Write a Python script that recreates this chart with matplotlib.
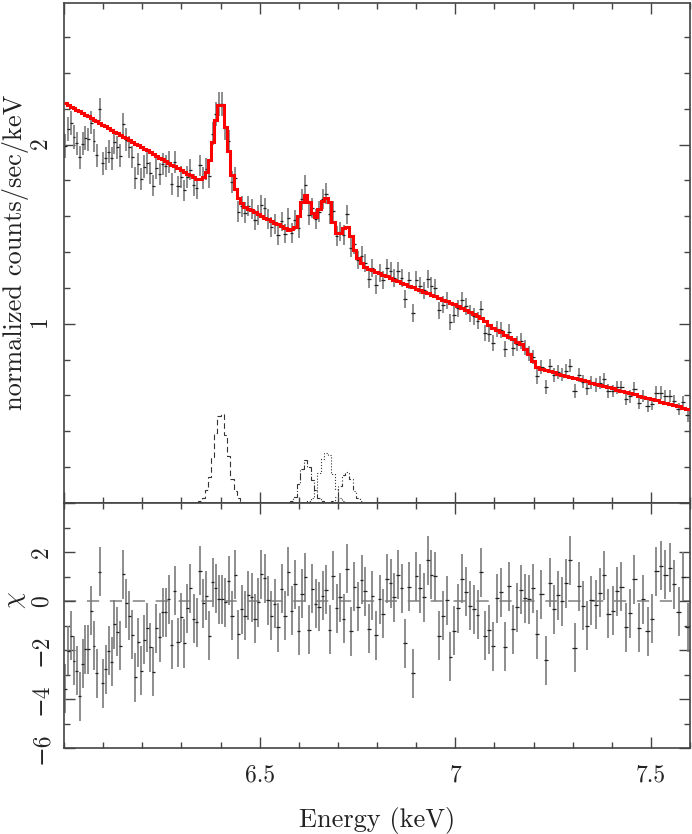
import matplotlib.pyplot as plt
import numpy as np
from matplotlib.ticker import MultipleLocator, FixedLocator, FixedFormatter

plt.rcParams['font.family'] = ['cmr10', 'DejaVu Serif']
plt.rcParams['mathtext.fontset'] = 'cm'
plt.rcParams['axes.formatter.use_mathtext'] = True

# energy grid (bins uniform in wavelength)
e_min = 6.0
e_max = 7.6
n_bins = 175

# continuum model level per bin (normalized counts/sec/keV)
continuum = [
    2.230, 2.221, 2.212, 2.203, 2.194, 2.185, 2.175, 2.166, 2.157, 2.148,
    2.138, 2.129, 2.120, 2.110, 2.101, 2.091, 2.082, 2.072, 2.063, 2.053,
    2.044, 2.034, 2.025, 2.015, 2.005, 1.996, 1.986, 1.976, 1.967, 1.957,
    1.947, 1.937, 1.927, 1.918, 1.908, 1.898, 1.888, 1.878, 1.868, 1.858,
    1.848, 1.838, 1.828, 1.818, 1.808, 1.798, 1.788, 1.778, 1.767, 1.757,
    1.747, 1.737, 1.726, 1.716, 1.706, 1.695, 1.685, 1.675, 1.664, 1.654,
    1.643, 1.633, 1.622, 1.612, 1.602, 1.592, 1.583, 1.574, 1.564, 1.555,
    1.545, 1.536, 1.526, 1.517, 1.507, 1.497, 1.488, 1.478, 1.468, 1.459,
    1.449, 1.439, 1.429, 1.420, 1.410, 1.400, 1.390, 1.381, 1.372, 1.363,
    1.354, 1.345, 1.336, 1.327, 1.318, 1.308, 1.299, 1.290, 1.281, 1.272,
    1.264, 1.256, 1.247, 1.239, 1.230, 1.222, 1.213, 1.205, 1.196, 1.187,
    1.179, 1.170, 1.162, 1.153, 1.144, 1.135, 1.126, 1.117, 1.108, 1.099,
    1.090, 1.079, 1.067, 1.056, 1.044, 1.030, 1.013, 0.995, 0.976, 0.965,
    0.952, 0.940, 0.928, 0.915, 0.900, 0.885, 0.862, 0.832, 0.792, 0.760,
    0.747, 0.741, 0.735, 0.729, 0.722, 0.716, 0.710, 0.703, 0.697, 0.691,
    0.684, 0.678, 0.671, 0.665, 0.658, 0.652, 0.645, 0.639, 0.632, 0.626,
    0.619, 0.612, 0.606, 0.599, 0.593, 0.586, 0.579, 0.573, 0.566, 0.559,
    0.553, 0.546, 0.539, 0.532, 0.525,
]

# gaussian line components: first bin index + values
kalpha_start = 45
kalpha = [0.012, 0.03, 0.07, 0.145, 0.255, 0.39, 0.485, 0.495, 0.38, 0.26,
          0.135, 0.065, 0.028, 0.01]
fe_a_start = 73
fe_a = [0.01, 0.034, 0.105, 0.19, 0.24, 0.2, 0.13, 0.07, 0.03, 0.01]
fe_b_start = 78
fe_b = [0.01, 0.03, 0.075, 0.17, 0.245, 0.28, 0.27, 0.16, 0.08, 0.03, 0.01]
fe_c_start = 85
fe_c = [0.01, 0.035, 0.095, 0.155, 0.175, 0.135, 0.067, 0.03, 0.01]

# 1-sigma errors of the data per bin
err = [
    0.066, 0.066, 0.066, 0.066, 0.066, 0.066, 0.066, 0.066, 0.065, 0.065,
    0.064, 0.064, 0.064, 0.064, 0.064, 0.064, 0.064, 0.064, 0.063, 0.063,
    0.063, 0.063, 0.063, 0.062, 0.062, 0.062, 0.062, 0.062, 0.062, 0.061,
    0.061, 0.061, 0.061, 0.061, 0.061, 0.061, 0.060, 0.060, 0.060, 0.060,
    0.060, 0.060, 0.060, 0.060, 0.060, 0.060, 0.061, 0.062, 0.063, 0.065,
    0.066, 0.068, 0.068, 0.066, 0.064, 0.061, 0.059, 0.058, 0.057, 0.057,
    0.056, 0.056, 0.056, 0.056, 0.056, 0.056, 0.055, 0.055, 0.055, 0.055,
    0.054, 0.054, 0.054, 0.055, 0.056, 0.057, 0.058, 0.058, 0.058, 0.057,
    0.056, 0.057, 0.058, 0.058, 0.058, 0.056, 0.054, 0.054, 0.055, 0.055,
    0.053, 0.052, 0.051, 0.051, 0.051, 0.051, 0.051, 0.051, 0.051, 0.050,
    0.050, 0.050, 0.050, 0.050, 0.050, 0.049, 0.049, 0.049, 0.049, 0.049,
    0.048, 0.048, 0.048, 0.048, 0.048, 0.048, 0.047, 0.047, 0.047, 0.047,
    0.046, 0.046, 0.046, 0.046, 0.046, 0.045, 0.045, 0.045, 0.045, 0.045,
    0.044, 0.044, 0.043, 0.043, 0.042, 0.042, 0.041, 0.041, 0.040, 0.040,
    0.039, 0.039, 0.039, 0.039, 0.039, 0.038, 0.038, 0.038, 0.038, 0.038,
    0.037, 0.037, 0.037, 0.037, 0.037, 0.037, 0.037, 0.036, 0.036, 0.036,
    0.036, 0.036, 0.036, 0.035, 0.035, 0.035, 0.035, 0.035, 0.035, 0.035,
    0.034, 0.034, 0.034, 0.034, 0.034,
]

# residuals (data - model) / error per bin
chi = [
    -3.59, -2.03, -1.41, -2.44, -2.84, -3.89, -2.57, -1.96, -1.96, -0.39,
    -1.82, -2.94, 1.20, -3.36, -2.78, -2.03, -2.48, -0.94, -1.25, -1.82,
    1.10, -0.10, -0.60, -1.37, -3.12, -1.69, -2.84, -1.59, -1.10, -1.89,
    -2.88, -1.12, -1.48, -0.46, -0.46, 0.08, -1.78, 0.42, -1.69, -0.67,
    -1.73, -0.30, 0.53, -0.73, -0.87, 1.24, -0.10, 0.22, -1.41, 0.76,
    0.53, 0.08, 0.08, -0.05, 0.83, -0.60, 1.07, -1.35, -0.33, -0.60,
    0.23, 0.15, -0.73, -0.05, 1.10, 0.93, 0.04, -0.60, -0.12, -1.07,
    0.49, -0.60, 1.20, -0.39, 0.69, -1.21, 0.29, 0.97, -1.18, 0.49,
    -0.12, -0.23, 0.22, 0.46, -1.17, 1.03, -0.29, 0.15, -0.73, 1.31,
    -1.24, 0.59, -0.23, 0.86, 0.39, -1.14, 0.22, -1.39, 0.08, -0.53,
    0.90, 0.73, 0.15, 1.07, 0.53, -1.73, 0.59, -2.94, 1.01, 0.53,
    0.15, 1.67, 1.07, 1.01, -1.41, -0.60, 0.04, -2.27, -1.21, -0.29,
    0.90, 0.38,
    -0.19, -0.33, -0.57, 1.17, -1.41, -1.18, -1.84, 0.12, 0.35, -1.86,
    0.61, -1.16, -0.26, 0.45, 0.12, 0.07, 0.53, -1.35, 0.27, -2.42,
    0.75, -0.33, 0.24, 0.00, 0.73, 1.67, -1.90, 0.60, -0.20, -1.02,
    0.04, -0.16, 0.34, 1.05, -0.53, -0.39, 0.39, 0.59, -1.07, -0.49,
    0.88, -1.10, 0.08, -1.24, -0.73, 1.21, 1.44, 1.07, 1.35, 0.69,
    -0.44, 0.99, -1.07,
]


def component(start, vals):
    arr = np.zeros(n_bins)
    arr[start:start + len(vals)] = vals
    return arr


edges = 1.0 / np.linspace(1.0 / e_min, 1.0 / e_max, n_bins + 1)
centers = 0.5 * (edges[:-1] + edges[1:])
comps = [component(kalpha_start, kalpha), component(fe_a_start, fe_a),
         component(fe_b_start, fe_b), component(fe_c_start, fe_c)]
err = np.array(err)
chi = np.array(chi)
model = np.array(continuum) + sum(comps)
data = model + chi * err

txt = '#222222'
axc = '#444444'

fig = plt.figure(figsize=(6.92, 8.34), dpi=100)
ax1 = fig.add_axes([64 / 692, 1 - 503 / 834, 626 / 692, 500 / 834])
ax2 = fig.add_axes([64 / 692, 1 - 748 / 834, 626 / 692, 245 / 834])

# top panel: data, model and line components
ax1.errorbar(centers, data, yerr=err, fmt='none', ecolor='#7a7a7a', elinewidth=1.2)
ax1.hlines(data, edges[:-1], edges[1:], color='#222222', lw=0.9)
ax1.stairs(model, edges, color='red', lw=2.2, baseline=None, zorder=3)
styles = [(0, (5, 3)), '-.', ':', (0, (4, 2, 1, 2, 1, 2))]
for c, s in zip(comps, styles):
    ax1.stairs(c, edges, color='#333333', lw=0.8, ls=s, baseline=None)

# bottom panel: residuals
ax2.axhline(0, color='#808080', lw=1.1, ls=(0, (8, 7)), zorder=1)
ax2.errorbar(centers, chi, yerr=1.0, fmt='none', ecolor='#7a7a7a', elinewidth=1.2)
ax2.hlines(chi, edges[:-1], edges[1:], color='#222222', lw=0.9)

for ax in (ax1, ax2):
    ax.set_xlim(e_min, e_max)
    ax.xaxis.set_major_locator(MultipleLocator(0.5))
    ax.xaxis.set_minor_locator(MultipleLocator(0.1))
    ax.tick_params(which='both', direction='in', top=True, right=True,
                   color=axc, width=1, labelcolor=txt, labelsize=17)
    ax.tick_params(which='major', length=8)
    ax.tick_params(which='minor', length=4)
    ax.tick_params(axis='y', labelrotation=90, pad=8)
    for sp in ax.spines.values():
        sp.set_color(axc)
        sp.set_linewidth(1.2)

ax1.set_ylim(0, 2.79)
ax1.yaxis.set_major_locator(FixedLocator([1, 2]))
ax1.yaxis.set_minor_locator(MultipleLocator(0.2))
ax1.tick_params(axis='x', labelbottom=False)
for lab in ax1.get_yticklabels():
    lab.set_va('center')

ax2.set_ylim(-6, 4)
ax2.yaxis.set_major_locator(FixedLocator([-6, -4, -2, 0, 2, 4]))
ax2.yaxis.set_major_formatter(FixedFormatter(['\u22126', '\u22124', '\u22122', '0', '2', '']))
ax2.yaxis.set_minor_locator(MultipleLocator(1))
ax2.xaxis.set_major_locator(FixedLocator([6.5, 7.0, 7.5]))
ax2.xaxis.set_major_formatter(FixedFormatter(['6.5', '7', '7.5']))
ax2.tick_params(axis='x', pad=12)
for lab in ax2.get_yticklabels():
    lab.set_va('center')

fig.text(16 / 692, 1 - 252 / 834, 'normalized counts/sec/keV', rotation=90,
         ha='center', va='center', fontsize=19, color=txt)
fig.text(16 / 692, 1 - 600 / 834, r'$\chi$', rotation=90,
         ha='center', va='center', fontsize=19, color=txt)
fig.text(377 / 692, 1 - 820 / 834, 'Energy (keV)', ha='center', va='center',
         fontsize=19, color=txt)

fig.savefig('out.png', dpi=100)
